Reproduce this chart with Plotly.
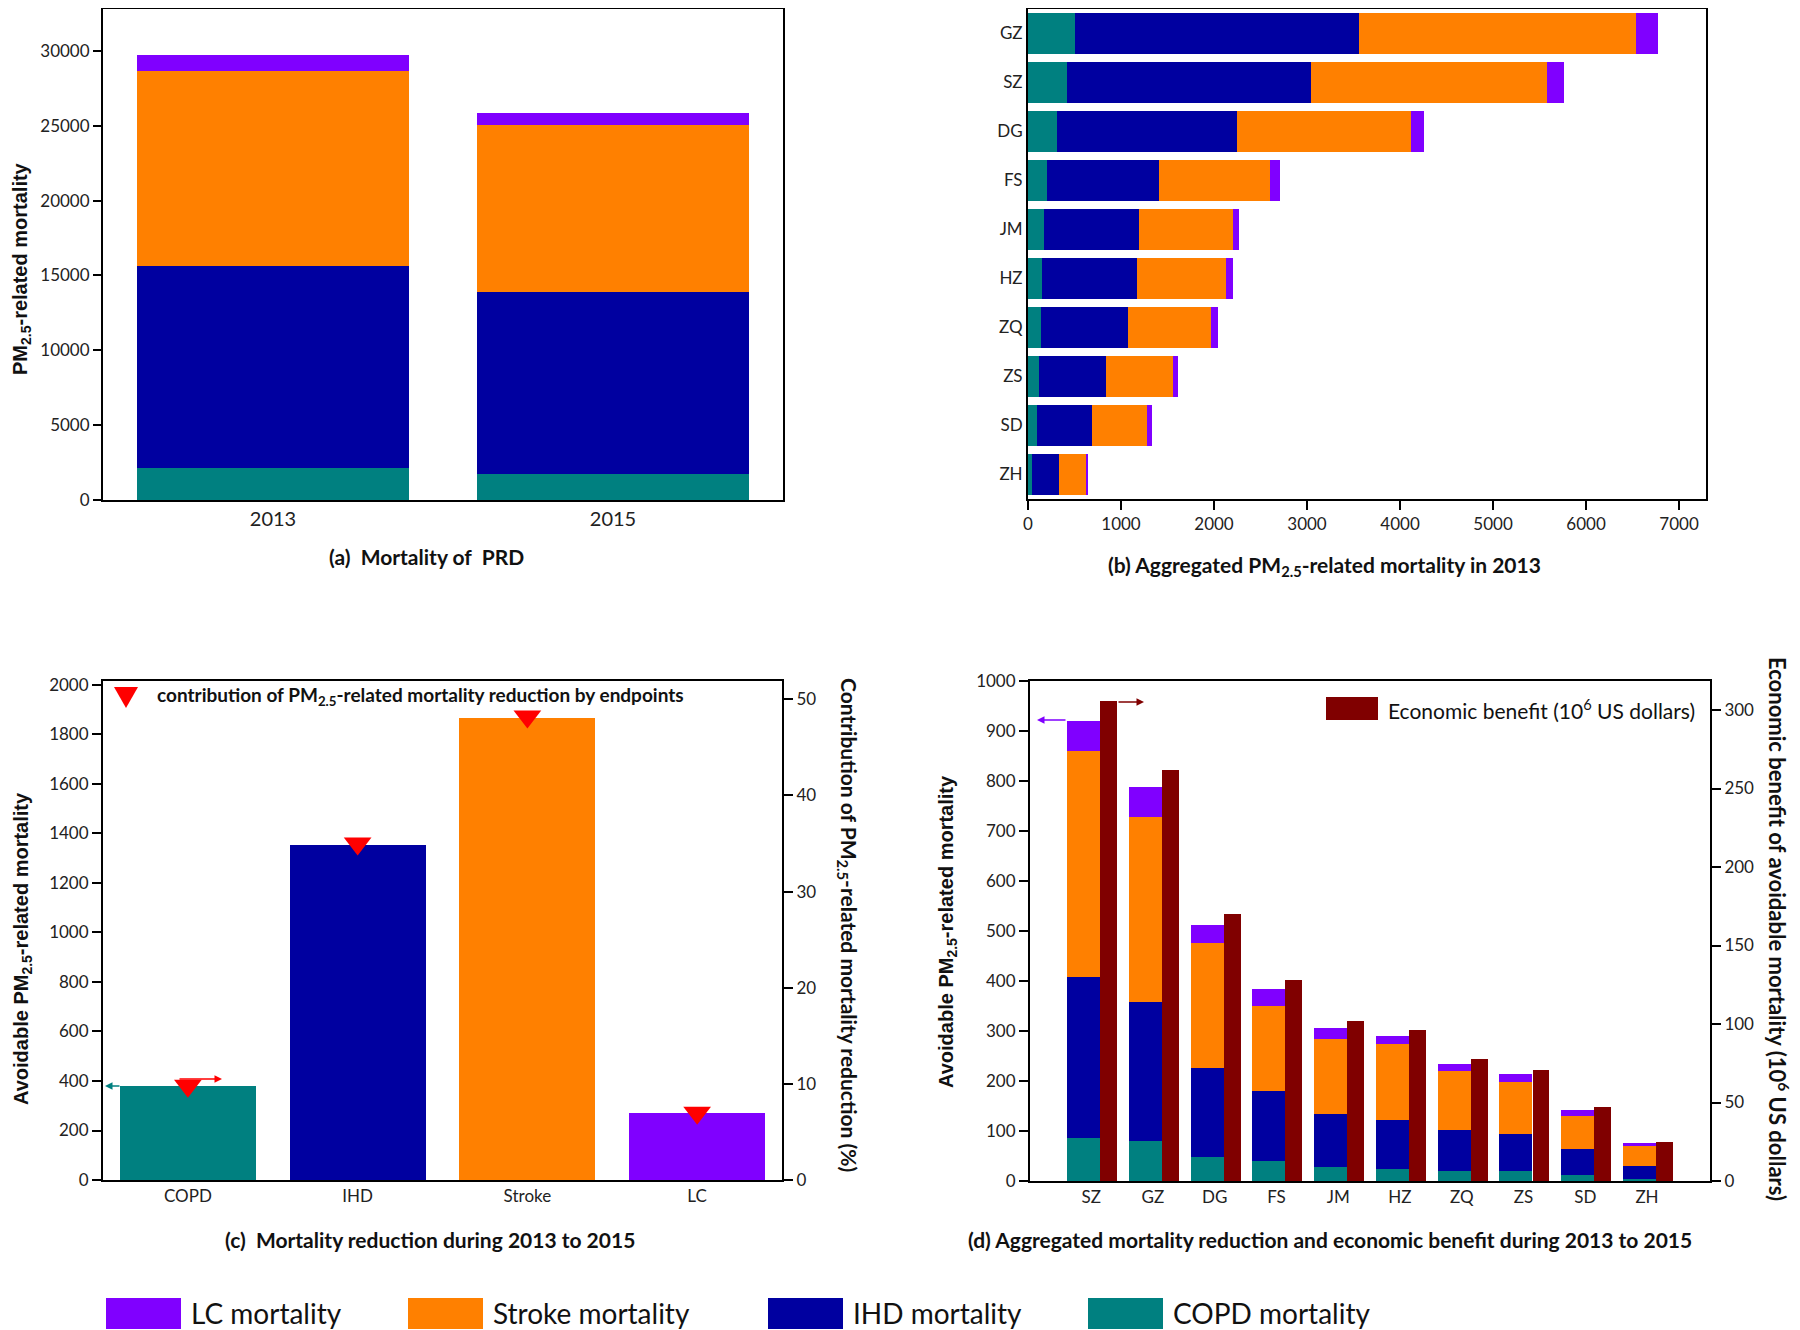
import plotly.graph_objects as go

W, H = 1800, 1330
OFF = 8  # page body margin of the browser
FW, FH = W - OFF, H - OFF


def px(x):
    return min(max((x - OFF) / FW, 0), 1)


def py(y):
    return min(max(1 - (y - OFF) / FH, 0), 1)


COL_COPD = "#008080"
COL_IHD = "#0000A0"
COL_STROKE = "#FF8000"
COL_LC = "#8000FF"
COL_ECON = "#800000"
COL_TRI = "#FF0000"

TICK_FONT = dict(family="Lato, Open Sans, sans-serif", size=17, color="#222222")
BOLD_SANS = "Liberation Sans, Arial, sans-serif"
LATO = "Lato, Open Sans, sans-serif"

# ---------------- data ----------------
# (a) Mortality of PRD
years = ["2013", "2015"]
prd_copd = [2135, 1767]
prd_ihd = [13500, 12100]
prd_stroke = [13010, 11170]
prd_lc = [1055, 785]

# (b) Aggregated PM2.5-related mortality in 2013
cities_2013 = ["GZ", "SZ", "DG", "FS", "JM", "HZ", "ZQ", "ZS", "SD", "ZH"]
b_copd = [507, 420, 311, 201, 167, 150, 138, 115, 95, 40]
b_ihd = [3051, 2620, 1934, 1209, 1030, 1024, 933, 726, 590, 295]
b_stroke = [2976, 2539, 1871, 1192, 1002, 956, 898, 719, 590, 285]
b_lc = [236, 184, 138, 104, 75, 75, 69, 52, 55, 25]

# (c) Mortality reduction during 2013 to 2015
endpoints = ["COPD", "IHD", "Stroke", "LC"]
avoidable = [380, 1355, 1867, 270]
contribution = [9.8, 35.0, 48.2, 7.0]

# (d) Aggregated mortality reduction and economic benefit
cities_red = ["SZ", "GZ", "DG", "FS", "JM", "HZ", "ZQ", "ZS", "SD", "ZH"]
d_copd = [87, 80, 49, 41, 28, 24, 21, 20, 13, 5]
d_ihd = [321, 279, 177, 139, 106, 98, 82, 75, 51, 26]
d_stroke = [452, 370, 251, 171, 151, 152, 117, 103, 66, 39]
d_lc = [61, 60, 36, 34, 21, 16, 15, 16, 13, 6]
econ_benefit = [306, 262, 170, 128, 102, 96, 78, 71, 47, 25]

legend_names = ["LC mortality", "Stroke mortality", "IHD mortality", "COPD mortality"]
legend_colors = [COL_LC, COL_STROKE, COL_IHD, COL_COPD]

fig = go.Figure()

# (a)
for vals, col, name in [(prd_copd, COL_COPD, "COPD"), (prd_ihd, COL_IHD, "IHD"),
                        (prd_stroke, COL_STROKE, "Stroke"), (prd_lc, COL_LC, "LC")]:
    fig.add_trace(go.Bar(x=years, y=vals, marker=dict(color=col, line=dict(width=0)),
                         width=0.8, name=name, xaxis="x", yaxis="y", showlegend=False))

# (b)
for vals, col, name in [(b_copd, COL_COPD, "COPD"), (b_ihd, COL_IHD, "IHD"),
                        (b_stroke, COL_STROKE, "Stroke"), (b_lc, COL_LC, "LC")]:
    fig.add_trace(go.Bar(y=cities_2013, x=vals, orientation="h",
                         marker=dict(color=col, line=dict(width=0)),
                         width=0.82, name=name, xaxis="x2", yaxis="y2", showlegend=False))

# (c)
fig.add_trace(go.Bar(x=endpoints, y=avoidable,
                     marker=dict(color=[COL_COPD, COL_IHD, COL_STROKE, COL_LC], line=dict(width=0)),
                     width=0.8, xaxis="x3", yaxis="y3", showlegend=False))
fig.add_trace(go.Scatter(x=endpoints, y=contribution, mode="markers",
                         marker=dict(symbol="triangle-down", size=24, color=COL_TRI),
                         xaxis="x3", yaxis="y4", showlegend=False))

# (d)
pos = list(range(len(cities_red)))
for vals, col, name in [(d_copd, COL_COPD, "COPD"), (d_ihd, COL_IHD, "IHD"),
                        (d_stroke, COL_STROKE, "Stroke"), (d_lc, COL_LC, "LC")]:
    fig.add_trace(go.Bar(x=pos, y=vals, marker=dict(color=col, line=dict(width=0)),
                         width=0.534, offset=-0.39, name=name,
                         xaxis="x5", yaxis="y5", showlegend=False))
fig.add_trace(go.Bar(x=pos, y=econ_benefit, marker=dict(color=COL_ECON, line=dict(width=0)),
                     width=0.275, offset=0.146, xaxis="x5", yaxis="y6", showlegend=False))

axis_common = dict(showline=True, linecolor="black", linewidth=2, showgrid=False,
                   zeroline=False, tickfont=TICK_FONT, tickcolor="black", tickwidth=2)

layout = dict(
    width=FW, height=FH, margin=dict(l=0, r=0, t=0, b=0, autoexpand=False),
    plot_bgcolor="white", paper_bgcolor="white", barmode="stack", bargap=0,
    showlegend=False,
    xaxis=dict(domain=[px(103), px(783)], anchor="y", range=[-0.5, 1.5], ticks="",
               mirror=True, **{**axis_common, "tickfont": dict(TICK_FONT, size=20)}),
    yaxis=dict(domain=[py(500), py(9)], anchor="x", range=[0, 32800], dtick=5000,
               tickformat="d", ticks="outside", ticklen=8, mirror=True, **axis_common),
    xaxis2=dict(domain=[px(1028), px(1706)], anchor="y2", range=[0, 7290], dtick=1000,
                tickformat="d", ticks="outside", ticklen=9, mirror=True, **axis_common),
    yaxis2=dict(domain=[py(499), py(9)], anchor="x2", categoryorder="array",
                categoryarray=cities_2013[::-1], range=[-0.5, 9.5], ticks="", mirror=True,
                **axis_common),
    xaxis3=dict(domain=[px(103), px(782)], anchor="y3", range=[-0.5, 3.5], ticks="",
                mirror=True, **axis_common),
    yaxis3=dict(domain=[py(1180), py(681)], anchor="x3", range=[0, 2016], dtick=200,
                tickformat="d", ticks="outside", ticklen=9, **axis_common),
    yaxis4=dict(overlaying="y3", anchor="x3", side="right", range=[0, 51.9], dtick=10,
                ticks="outside", ticklen=9, **axis_common),
    xaxis5=dict(domain=[px(1030), px(1710)], anchor="y5", range=[-0.99, 10.02],
                tickvals=pos, ticktext=cities_red, ticks="", mirror=True, **axis_common),
    yaxis5=dict(domain=[py(1181), py(681)], anchor="x5", range=[0, 1000], dtick=100,
                tickformat="d", ticks="outside", ticklen=9, **axis_common),
    yaxis6=dict(overlaying="y5", anchor="x5", side="right", range=[0, 318.5], dtick=50,
                ticks="outside", ticklen=9, **axis_common),
)
fig.update_layout(**layout)

ann = []
shapes = []


def text(x, y, s, size, family=LATO, bold=False, angle=0, xanchor="center", color="#111111"):
    ann.append(dict(x=px(x), y=py(y), xref="paper", yref="paper", text=(f"<b>{s}</b>" if bold else s),
                    showarrow=False, textangle=angle, xanchor=xanchor, yanchor="middle",
                    font=dict(family=family, size=size, color=color)))


# axis titles
text(21, 269, "PM<sub>2.5</sub>-related mortality", 20, BOLD_SANS, True, -90)
text(22, 949, "Avoidable PM<sub>2.5</sub>-related mortality", 20, BOLD_SANS, True, -90)
text(848, 925, "Contribution of PM<sub>2.5</sub>-related mortality reduction (%)", 21, LATO, True, 90)
text(948, 932, "Avoidable PM<sub>2.5</sub>-related mortality", 20, BOLD_SANS, True, -90)
text(1779, 929, "Economic benefit of avoidable mortality (10<sup>6</sup> US dollars)", 22, LATO, True, 90)

# panel titles
text(426, 556, "(a)  Mortality of  PRD", 21, LATO, True)
text(1324, 566, "(b) Aggregated PM<sub>2.5</sub>-related mortality in 2013", 21, LATO, True)
text(430, 1239, "(c)  Mortality reduction during 2013 to 2015", 21, LATO, True)
text(1330, 1239, "(d) Aggregated mortality reduction and economic benefit during 2013 to 2015", 21, LATO, True)

# legend (c)
shapes.append(dict(type="path", xref="paper", yref="paper",
                   path=f"M {px(114)},{py(687)} L {px(138)},{py(687)} L {px(126)},{py(708)} Z",
                   fillcolor=COL_TRI, line=dict(width=0)))
text(155, 696, "contribution of PM<sub>2.5</sub>-related mortality reduction by endpoints", 19, LATO, True,
     xanchor="left")

# legend (d)
shapes.append(dict(type="rect", xref="paper", yref="paper", x0=px(1326), x1=px(1378), y0=py(720), y1=py(697),
                   fillcolor=COL_ECON, line=dict(width=0)))
text(1386, 709, "Economic benefit (10<sup>6</sup> US dollars)", 21, LATO, False, xanchor="left")

# bottom legend
box_x = [106, 408, 768, 1088]
for bx, name, col in zip(box_x, legend_names, legend_colors):
    shapes.append(dict(type="rect", xref="paper", yref="paper", x0=px(bx), x1=px(bx + 75),
                       y0=py(1329), y1=py(1298), fillcolor=col, line=dict(width=0)))
    text(bx + 83, 1313, name, 28, LATO, False, xanchor="left")


# arrows
def arrow(x_head, y_head, x_tail, color):
    ann.append(dict(x=px(x_head), y=py(y_head), xref="paper", yref="paper", ax=x_tail - x_head, ay=0,
                    axref="pixel", ayref="pixel", text="", showarrow=True, arrowhead=2, arrowsize=1,
                    arrowwidth=1.5, arrowcolor=color))


arrow(105, 1086, 121, COL_COPD)
arrow(222, 1079, 178, COL_TRI)
arrow(1037, 720, 1067, COL_LC)
arrow(1144, 702, 1117, COL_ECON)

fig.update_layout(annotations=ann, shapes=shapes)

fig.write_html("out.html")
